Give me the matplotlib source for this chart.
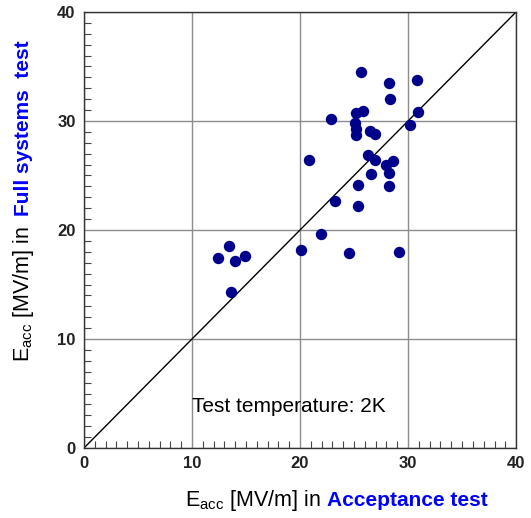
import numpy as np
import matplotlib.pyplot as plt
from matplotlib.ticker import MultipleLocator

plt.rcParams['font.family'] = ['Liberation Sans', 'DejaVu Sans']

# Accelerating gradient of each cavity: acceptance test vs. full systems test
acceptance = [12.4, 13.4, 14.0, 14.9, 13.6, 20.1, 21.9, 24.5, 29.2, 23.2,
              25.4, 25.4, 28.2, 26.6, 28.2, 20.8, 26.3, 26.9, 28.0, 28.6,
              25.2, 26.5, 26.9, 25.2, 25.1, 22.9, 25.2, 25.8, 30.2, 30.9,
              28.3, 28.2, 30.8, 25.6]
full_system = [17.4, 18.5, 17.2, 17.6, 14.3, 18.2, 19.6, 17.9, 18.0, 22.7,
               22.2, 24.1, 24.0, 25.1, 25.2, 26.4, 26.9, 26.4, 26.0, 26.3,
               28.7, 29.1, 28.8, 29.3, 29.8, 30.2, 30.7, 30.9, 29.6, 30.8,
               32.0, 33.5, 33.8, 34.5]
limits = [0, 40]

fig = plt.figure(figsize=(5.31, 5.18), dpi=100)
ax = fig.add_axes([0.158, 0.135, 0.814, 0.842])

ax.plot(limits, limits, color='black', lw=1.0, zorder=2)
ax.plot(acceptance, full_system, 'o', color='#00008b', ms=8.2, mec='none', zorder=3)

ax.set_xlim(limits)
ax.set_ylim(limits)
ax.xaxis.set_major_locator(MultipleLocator(10))
ax.yaxis.set_major_locator(MultipleLocator(10))
ax.xaxis.set_minor_locator(MultipleLocator(1))
ax.yaxis.set_minor_locator(MultipleLocator(1))
ax.grid(True, which='major', color='#8c8c8c', lw=1.0)
ax.tick_params(which='major', length=0, pad=6, labelsize=12)
ax.tick_params(which='minor', direction='in', length=5, width=0.8, color='#444444')
for lab in ax.get_xticklabels() + ax.get_yticklabels():
    lab.set_fontweight('bold')
    lab.set_color('#222222')
for sp in ax.spines.values():
    sp.set_color('#333333')
    sp.set_linewidth(1.0)

ax.text(10.0, 3.8, 'Test temperature: 2K', fontsize=15, va='center', ha='left')

# two-colour axis titles
ax.text(0.548, -0.121, 'E$_{\\mathregular{acc}}$ [MV/m] in', transform=ax.transAxes,
        fontsize=15.5, ha='right', va='center')
ax.text(0.5625, -0.121, 'Acceptance test', transform=ax.transAxes,
        fontsize=15, ha='left', va='center', color='#0000ff', fontweight='bold')
ax.text(-0.14, 0.509, 'E$_{\\mathregular{acc}}$ [MV/m] in', transform=ax.transAxes,
        fontsize=15.5, ha='center', va='top', rotation=90)
ax.text(-0.14, 0.532, 'Full systems  test', transform=ax.transAxes,
        fontsize=15, ha='center', va='bottom', rotation=90, color='#0000ff',
        fontweight='bold')

fig.savefig('out.png', dpi=100)
